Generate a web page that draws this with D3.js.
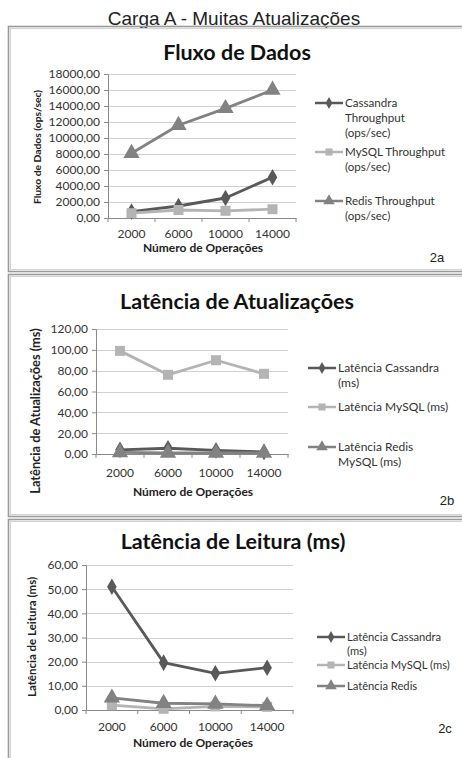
<!DOCTYPE html>
<html><head><meta charset="utf-8">
<script src="https://cdn.jsdelivr.net/npm/d3@7"></script>
<style>body{margin:0;background:#fff}svg{display:block}</style>
</head><body>
<svg id="c" width="462" height="758"></svg>
<script>
// ---- Data ----
const categories = ["2000", "6000", "10000", "14000"];

const fluxoCassandra = [800, 1500, 2500, 5100];
const fluxoMySQL = [600, 1000, 900, 1100];
const fluxoRedis = [8100, 11600, 13700, 16000];
const fluxoTicks = [0, 2000, 4000, 6000, 8000, 10000, 12000, 14000, 16000, 18000];

const atualCassandra = [4.0, 5.5, 3.5, 2.0];
const atualMySQL = [99, 76, 90, 77];
const atualRedis = [1.5, 1.0, 1.0, 1.0];
const atualTicks = [0, 20, 40, 60, 80, 100, 120];

const leituraCassandra = [51, 19.6, 15.2, 17.5];
const leituraMySQL = [2.0, 0.5, 1.5, 1.3];
const leituraRedis = [5.0, 2.8, 2.5, 1.8];
const leituraTicks = [0, 10, 20, 30, 40, 50, 60];

const seriesColors = { cassandra: "#595959", mysql: "#b4b4b4", redis: "#828282" };

const svg = d3.select("#c");
const fmt = v => d3.format(".2f")(v).replace(".", ",");
const chartFont = "Lato, 'Open Sans', sans-serif";

// top title
svg.append("text").attr("x", 234).attr("y", 25).attr("text-anchor", "middle")
  .attr("font-family", "'Liberation Sans', Arial, sans-serif").attr("font-size", 19)
  .attr("fill", "#222").text("Carga A - Muitas Atualizações");

function panel(cfg) {
  const g = svg.append("g");
  // frame
  g.append("rect").attr("x", 8.5).attr("y", cfg.top + 0.5).attr("width", 470).attr("height", cfg.bottom - cfg.top)
    .attr("fill", "none").attr("stroke", "#9a9a9a").attr("stroke-width", 1.6);
  g.append("rect").attr("x", 10.5).attr("y", cfg.top + 2.5).attr("width", 470).attr("height", cfg.bottom - cfg.top - 4)
    .attr("fill", "none").attr("stroke", "#d4d4d4").attr("stroke-width", 1);

  const x = d3.scaleBand().domain(categories).range([cfg.x0, cfg.x1]);
  const y = d3.scaleLinear().domain([0, d3.max(cfg.ticks)]).range([cfg.y0, cfg.y1]);

  // title
  g.append("text").attr("x", cfg.titleX).attr("y", cfg.titleY).attr("text-anchor", "middle")
    .attr("font-family", chartFont).attr("font-weight", "bold").attr("font-size", cfg.titleSize)
    .attr("fill", "#111").text(cfg.title);

  // gridlines
  g.append("g").selectAll("line").data(cfg.ticks.filter(t => t > 0)).join("line")
    .attr("x1", cfg.x0).attr("x2", cfg.x1).attr("y1", d => Math.round(y(d)) + 0.5).attr("y2", d => Math.round(y(d)) + 0.5)
    .attr("stroke", "#d0d0d0").attr("stroke-width", 1);

  // y axis
  const ya = g.append("g").attr("transform", `translate(${cfg.x0},0)`)
    .call(d3.axisLeft(y).tickValues(cfg.ticks).tickFormat(fmt).tickSize(4).tickPadding(4));
  ya.select(".domain").attr("stroke", "#8a8a8a");
  ya.selectAll(".tick line").attr("stroke", "#8a8a8a");
  ya.selectAll("text").attr("font-family", chartFont).attr("font-size", 12).attr("fill", "#333");

  // x axis
  const xa = g.append("g").attr("transform", `translate(0,${cfg.y0})`)
    .call(d3.axisBottom(x).tickSize(0).tickPadding(cfg.xPad));
  xa.select(".domain").attr("stroke", "#8a8a8a");
  xa.selectAll("text").attr("font-family", chartFont).attr("font-size", 12).attr("fill", "#333");
  // category boundary ticks
  g.append("g").selectAll("line").data(d3.range(categories.length + 1)).join("line")
    .attr("x1", i => cfg.x0 + i * x.step()).attr("x2", i => cfg.x0 + i * x.step())
    .attr("y1", cfg.y0).attr("y2", cfg.y0 + 4).attr("stroke", "#8a8a8a");

  // axis titles
  g.append("text").attr("transform", `translate(${cfg.yTitleX},${cfg.yTitleY}) rotate(-90)`)
    .attr("text-anchor", "middle").attr("font-family", chartFont).attr("font-weight", "bold")
    .attr("font-size", cfg.yTitleSize).attr("fill", "#222").text(cfg.yTitle);
  g.append("text").attr("x", cfg.xTitleX).attr("y", cfg.xTitleY).attr("text-anchor", "middle")
    .attr("font-family", chartFont).attr("font-weight", "bold").attr("font-size", 12)
    .attr("fill", "#222").text("Número de Operações");

  // label
  g.append("text").attr("x", cfg.labelX).attr("y", cfg.labelY).attr("text-anchor", "middle")
    .attr("font-family", "'Liberation Sans', Arial, sans-serif").attr("font-size", 13)
    .attr("fill", "#222").text(cfg.label);

  const line = d3.line().x((d, i) => x(categories[i]) + x.bandwidth() / 2).y(d => y(d));
  const shapes = { cassandra: d3.symbolDiamond, mysql: d3.symbolSquare, redis: d3.symbolTriangle };
  const sizes = { cassandra: 80, mysql: 100, redis: 115 };

  cfg.series.forEach(s => {
    g.append("path").datum(s.values).attr("d", line).attr("fill", "none")
      .attr("stroke", seriesColors[s.key]).attr("stroke-width", 2.8).attr("stroke-linejoin", "round");
    g.append("g").selectAll("path").data(s.values).join("path")
      .attr("transform", (d, i) => `translate(${x(categories[i]) + x.bandwidth() / 2},${y(d)})`)
      .attr("d", d3.symbol().type(shapes[s.key]).size(sizes[s.key]))
      .attr("fill", seriesColors[s.key]);
  });

  // legend
  cfg.series.forEach(s => {
    const ly = s.legendY;
    g.append("line").attr("x1", cfg.legX).attr("x2", cfg.legX + 28).attr("y1", ly).attr("y2", ly)
      .attr("stroke", seriesColors[s.key]).attr("stroke-width", 2.5);
    g.append("path").attr("transform", `translate(${cfg.legX + 14},${ly})`)
      .attr("d", d3.symbol().type(shapes[s.key]).size(sizes[s.key] * 0.5)).attr("fill", seriesColors[s.key]);
    s.legend.forEach((t, j) => {
      g.append("text").attr("x", cfg.legX + 30).attr("y", ly + j * cfg.legLH).attr("dy", "0.35em")
        .attr("font-family", chartFont).attr("font-size", cfg.legSize).attr("fill", "#333").text(t);
    });
  });
}

panel({
  top: 26, bottom: 271, title: "Fluxo de Dados", titleX: 237, titleY: 60, titleSize: 21.5,
  x0: 108, x1: 296, y0: 218, y1: 74, ticks: fluxoTicks, xPad: 11,
  yTitle: "Fluxo de Dados (ops/sec)", yTitleX: 41, yTitleY: 147, yTitleSize: 10.3,
  xTitleX: 203, xTitleY: 252, label: "2a", labelX: 437, labelY: 262,
  legX: 315, legLH: 15, legSize: 11.6,
  series: [
    { key: "cassandra", values: fluxoCassandra, legendY: 103, legend: ["Cassandra", "Throughput", "(ops/sec)"] },
    { key: "mysql", values: fluxoMySQL, legendY: 152, legend: ["MySQL Throughput", "(ops/sec)"] },
    { key: "redis", values: fluxoRedis, legendY: 201, legend: ["Redis Throughput", "(ops/sec)"] }
  ]
});

panel({
  top: 274, bottom: 516, title: "Latência de Atualizações", titleX: 237, titleY: 309, titleSize: 21.5,
  x0: 96, x1: 288, y0: 454, y1: 329, ticks: atualTicks, xPad: 14,
  yTitle: "Latência de Atualizações (ms)", yTitleX: 40, yTitleY: 411, yTitleSize: 12.8,
  xTitleX: 193, xTitleY: 496, label: "2b", labelX: 447, labelY: 505,
  legX: 308, legLH: 15, legSize: 12,
  series: [
    { key: "cassandra", values: atualCassandra, legendY: 368, legend: ["Latência Cassandra", "(ms)"] },
    { key: "mysql", values: atualMySQL, legendY: 407, legend: ["Latência MySQL (ms)"] },
    { key: "redis", values: atualRedis, legendY: 447, legend: ["Latência Redis", "MySQL (ms)"] }
  ]
});

panel({
  top: 519, bottom: 790, title: "Latência de Leitura (ms)", titleX: 233, titleY: 549, titleSize: 21.5,
  x0: 86, x1: 293, y0: 710, y1: 565, ticks: leituraTicks, xPad: 12,
  yTitle: "Latência de Leitura (ms)", yTitleX: 36, yTitleY: 637, yTitleSize: 11.5,
  xTitleX: 193, xTitleY: 747, label: "2c", labelX: 445, labelY: 733,
  legX: 317, legLH: 14, legSize: 11.2,
  series: [
    { key: "cassandra", values: leituraCassandra, legendY: 637, legend: ["Latência Cassandra", "(ms)"] },
    { key: "mysql", values: leituraMySQL, legendY: 665, legend: ["Latência MySQL (ms)"] },
    { key: "redis", values: leituraRedis, legendY: 686, legend: ["Latência Redis"] }
  ]
});
</script>
</body></html>
